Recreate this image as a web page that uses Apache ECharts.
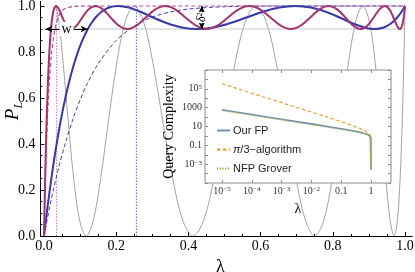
<!DOCTYPE html>
<html><head><meta charset="utf-8">
<script src="https://cdn.jsdelivr.net/npm/echarts@6/dist/echarts.min.js"></script>
<style>html,body{margin:0;padding:0;background:#fff}#c{width:415px;height:272px}</style>
</head><body><div id="c"></div>
<script>
// ---------- main plot data (λ, P_L) ----------
const grayLambda = [0, 0.00085, 0.00338, 0.0076, 0.01348, 0.021, 0.03015, 0.04089, 0.05319, 0.06699, 0.08225, 0.09894, 0.11698, 0.13632, 0.15688, 0.17861, 0.20142, 0.22525, 0.25, 0.2756, 0.30196, 0.32899, 0.3566, 0.3847, 0.41318, 0.44196, 0.47093, 0.5, 0.52907, 0.55804, 0.58682, 0.6153, 0.6434, 0.67101, 0.69804, 0.7244, 0.75, 0.77475, 0.79858, 0.82139, 0.84312, 0.86368, 0.88302, 0.90106, 0.91775, 0.93301, 0.94681, 0.95911, 0.96985, 0.979, 0.98652, 0.9924, 0.99662, 0.99915, 1];
const grayP = [0, 0.067, 0.25, 0.5, 0.75, 0.933, 1, 0.933, 0.75, 0.5, 0.25, 0.067,
               0, 0.067, 0.25, 0.5, 0.75, 0.933, 1, 0.933, 0.75, 0.5, 0.25, 0.067,
               0, 0.067, 0.25, 0.5, 0.75, 0.933, 1, 0.933, 0.75, 0.5, 0.25, 0.067,
               0, 0.067, 0.25, 0.5, 0.75, 0.933, 1, 0.933, 0.75, 0.5, 0.25, 0.067,
               0, 0.067, 0.25, 0.5, 0.75, 0.933, 1];

const blueLambda = [0, 0.01, 0.02, 0.03, 0.04, 0.05, 0.06, 0.07, 0.08, 0.09, 0.1, 0.11, 0.12144, 0.12385, 0.13105, 0.14294, 0.15942, 0.1803, 0.20534, 0.23428, 0.26678, 0.30252, 0.34108, 0.38205, 0.42498, 0.46938, 0.51481, 0.56072, 0.60663, 0.65206, 0.69647, 0.73939, 0.78036, 0.81892, 0.85466, 0.88717, 0.9161, 0.94115, 0.96202, 0.9785, 0.9904, 0.99759, 1];
const blueP = [0, 0.1292, 0.2465, 0.3521, 0.4468, 0.5314, 0.6066, 0.673, 0.7313, 0.7822, 0.8262, 0.8639, 0.9, 0.9067, 0.925, 0.95, 0.975, 0.9933, 1, 0.9933, 0.975, 0.95, 0.925, 0.9067, 0.9, 0.9067, 0.925, 0.95, 0.975, 0.9933, 1, 0.9933, 0.975, 0.95, 0.925, 0.9067, 0.9, 0.9067, 0.925, 0.95, 0.975, 0.9933, 1];

const purpleLambda = [0, 0.002, 0.005, 0.008, 0.011, 0.014, 0.017, 0.019314, 0.020208, 0.02289, 0.027346, 0.033562, 0.041517, 0.051179, 0.062511, 0.075481, 0.090029, 0.106113, 0.123669, 0.142631, 0.162933, 0.1845, 0.207231, 0.23111, 0.256016, 0.281784, 0.308364, 0.335647, 0.363523, 0.391906, 0.421276, 0.450553, 0.480061, 0.509657, 0.539253, 0.568761, 0.598038, 0.627408, 0.655791, 0.683667, 0.71095, 0.73753, 0.763298, 0.788204, 0.812083, 0.834814, 0.856382, 0.876684, 0.895645, 0.913201, 0.929286, 0.943834, 0.956804, 0.968136, 0.977797, 0.985752, 0.991968, 0.996424, 0.999106, 1];
const purpleP = [0, 0.166, 0.375, 0.5426, 0.6747, 0.7771, 0.8546,
                 0.9, 0.9146, 0.95, 0.9854, 1, 0.9854, 0.95, 0.9146,
                 0.9, 0.9146, 0.95, 0.9854, 1, 0.9854, 0.95, 0.9146,
                 0.9, 0.9146, 0.95, 0.9854, 1, 0.9854, 0.95, 0.9146,
                 0.9, 0.9146, 0.95, 0.9854, 1, 0.9854, 0.95, 0.9146,
                 0.9, 0.9146, 0.95, 0.9854, 1, 0.9854, 0.95, 0.9146,
                 0.9, 0.9146, 0.95, 0.9854, 1, 0.9854, 0.95, 0.9146,
                 0.9, 0.9146, 0.95, 0.9854, 1];

const blueDashLambda = [0, 0.02, 0.04, 0.06, 0.08, 0.1, 0.12, 0.15, 0.2, 0.25, 0.3, 0.35, 0.4, 0.5, 0.6, 0.8, 1];
const blueDashP = [0, 0.158, 0.293, 0.409, 0.508, 0.592, 0.663, 0.749, 0.85, 0.913, 0.952, 0.974, 0.987, 0.997, 0.9996, 1, 1];

const purpleDashLambda = [0, 0.002, 0.005, 0.01, 0.015, 0.02, 0.03, 0.04, 0.05, 0.06, 0.08, 0.1, 0.2, 1];
const purpleDashP = [0, 0.139, 0.313, 0.529, 0.678, 0.78, 0.898, 0.953, 0.979, 0.99, 0.998, 0.9996, 1, 1];

const levelLambda = [0, 1];
const levelP = [0.9, 0.9];
const wPurpleDash = 0.035;
const wBlueDash = 0.256;
const wBlue = 0.121;
const deltaMarkLambda = 0.437;

const mainTicks = [0, 0.2, 0.4, 0.6, 0.8, 1.0];
const mainMinor = [0.05, 0.1, 0.15, 0.25, 0.3, 0.35, 0.45, 0.5, 0.55, 0.65, 0.7, 0.75, 0.85, 0.9, 0.95];

// ---------- inset data (λ, query complexity) ----------
const insetLambda = [1e-5, 1e-4, 1e-3, 1e-2, 0.05, 0.1, 0.2, 0.3, 0.5, 0.7, 0.9, 0.99, 0.9999, 1];
const ourFP     = [600, 190, 60.1, 18.9, 8.35, 5.8, 3.95, 3.09, 2.16, 1.57, 1.05, 0.635, 0.359, 0.00026];
const piThird   = [345000, 34500, 3448, 343, 67.3, 32.7, 15.5, 9.67, 4.98, 2.87, 1.5, 0.749, 0.375, 0.00026];
const nfpGrover = [497, 157, 49.7, 15.7, 6.97, 4.88, 3.39, 2.71, 2.0, 1.585, 1.258, 1.068, 1.006, 0.00026];

const insetXTicks  = [1e-5, 1e-4, 1e-3, 1e-2, 0.1, 1];
const insetXLabels = ['10{s|−5}', '10{s|−4}', '10{s|−3}', '10{s|−2}', '0.1', '1'];
const insetYTicks  = [1e-3, 0.1, 10, 1000, 1e5];
const insetYLabels = ['10{s|−3}', '0.1', '10', '1000', '10{s|5}'];
const insetYMinor  = [1e-5, 1e-4, 1e-2, 1, 100, 1e4, 1e6, 1e7];

function zip(xs, ys) { return xs.map((x, i) => [x, ys[i]]); }
function pick(ticks, labels) {
  return v => { for (let i = 0; i < ticks.length; i++) { if (Math.abs(v - ticks[i]) <= ticks[i] * 1e-6) return labels[i]; } return ''; };
}

const SERIF = 'Liberation Serif';
const supRich = { s: { fontSize: 7, fontFamily: SERIF, color: '#333', verticalAlign: 'top', lineHeight: 10 } };

const chart = echarts.init(document.getElementById('c'), null, { renderer: 'canvas' });
const option = {
  animation: false,
  backgroundColor: '#fff',
  graphic: [
    { type: 'text', x: 13, y: 111, rotation: Math.PI / 2, z: 10, silent: true,
      style: { text: '{i|P}{s|L}', align: 'center', verticalAlign: 'middle',
        rich: { i: { fontFamily: SERIF, fontStyle: 'italic', fontSize: 19, fill: '#000', lineHeight: 24 },
                s: { fontFamily: SERIF, fontStyle: 'italic', fontSize: 12, fill: '#000', lineHeight: 14, verticalAlign: 'bottom' } } } }
  ],
  grid: [
    { left: 40.4, top: 1.4, width: 371.8, height: 234.6, show: false, containLabel: false, outerBoundsMode: 'none' },
    { left: 205, top: 70, width: 186, height: 113, show: true, backgroundColor: '#fff', borderColor: '#8c8c8c', borderWidth: 1, z: 5, containLabel: false, outerBoundsMode: 'none' }
  ],
  legend: {
    show: true, orient: 'vertical', left: 216, top: 125, padding: 0, itemGap: 8, itemWidth: 13, itemHeight: 10,
    selectedMode: false, z: 8,
    itemStyle: { opacity: 0 },
    data: ['Our FP', 'π/3−algorithm', 'NFP Grover'],
    formatter: n => n === 'π/3−algorithm' ? '{it|π}/3−algorithm' : n,
    textStyle: { fontFamily: 'Liberation Sans', fontSize: 11, color: '#222', padding: [0, 0, 0, -2],
      rich: { it: { fontStyle: 'italic', fontFamily: 'Liberation Sans', fontSize: 11, color: '#222' } } }
  },
  xAxis: [
    { gridIndex: 0, type: 'value', min: -0.01, max: 1.02, position: 'bottom',
      axisLine: { show: true, onZero: false, lineStyle: { color: '#000', width: 1 } },
      axisTick: { show: true, inside: true, length: 4, customValues: mainTicks, lineStyle: { color: '#000', width: 1 } },
      axisLabel: { show: true, customValues: mainTicks, formatter: v => v.toFixed(1), margin: 3, fontFamily: SERIF, fontSize: 14, color: '#000' },
      splitLine: { show: false },
      name: 'λ', nameLocation: 'middle', nameGap: 17,
      nameTextStyle: { fontFamily: SERIF, fontSize: 18, color: '#000', padding: [0, 12, 0, 0] } },
    { gridIndex: 0, type: 'value', min: -0.01, max: 1.02, position: 'bottom',
      axisLine: { show: false, onZero: false },
      axisTick: { show: true, inside: true, length: 2, customValues: mainMinor, lineStyle: { color: '#000', width: 1 } },
      axisLabel: { show: false }, splitLine: { show: false } },
    { gridIndex: 1, type: 'log', min: 2.7e-6, max: 4.7, position: 'bottom', z: 7,
      axisLine: { show: false, onZero: false },
      axisTick: { show: true, inside: true, length: 3, customValues: insetXTicks, lineStyle: { color: '#8c8c8c' } },
      axisLabel: { show: true, customValues: insetXTicks, formatter: pick(insetXTicks, insetXLabels), margin: 3,
        fontFamily: SERIF, fontSize: 10, color: '#333', rich: supRich },
      splitLine: { show: false }, minorTick: { show: false },
      name: 'λ', nameLocation: 'middle', nameGap: 19,
      nameTextStyle: { fontFamily: SERIF, fontSize: 14, color: '#000' } },
    { gridIndex: 1, type: 'log', min: 2.7e-6, max: 4.7, position: 'top', z: 7,
      axisLine: { show: false, onZero: false },
      axisTick: { show: true, inside: true, length: 3, customValues: insetXTicks, lineStyle: { color: '#8c8c8c' } },
      axisLabel: { show: false }, splitLine: { show: false } }
  ],
  yAxis: [
    { gridIndex: 0, type: 'value', min: 0, max: 1.02, position: 'left',
      axisLine: { show: true, onZero: false, lineStyle: { color: '#000', width: 1 } },
      axisTick: { show: true, inside: true, length: 4, customValues: mainTicks, lineStyle: { color: '#000', width: 1 } },
      axisLabel: { show: true, customValues: mainTicks, formatter: v => v.toFixed(1), margin: 5, fontFamily: SERIF, fontSize: 14, color: '#000' },
      splitLine: { show: false } },
    { gridIndex: 0, type: 'value', min: 0, max: 1.02, position: 'left',
      axisLine: { show: false, onZero: false },
      axisTick: { show: true, inside: true, length: 2, customValues: mainMinor, lineStyle: { color: '#000', width: 1 } },
      axisLabel: { show: false }, splitLine: { show: false } },
    { gridIndex: 1, type: 'log', min: 1e-5, max: 1e7, position: 'left', z: 7,
      axisLine: { show: false, onZero: false },
      axisTick: { show: true, inside: true, length: 3, customValues: insetYMinor.concat(insetYTicks), lineStyle: { color: '#8c8c8c' } },
      axisLabel: { show: true, customValues: insetYTicks, formatter: pick(insetYTicks, insetYLabels), margin: 3,
        fontFamily: SERIF, fontSize: 10, color: '#333', rich: supRich },
      splitLine: { show: false }, minorTick: { show: false },
      name: 'Query Complexity', nameLocation: 'middle', nameGap: 29, nameRotate: 90, nameMoveOverlap: false,
      nameTextStyle: { fontFamily: SERIF, fontSize: 14, color: '#000' } },
    { gridIndex: 1, type: 'log', min: 1e-5, max: 1e7, position: 'right', z: 7,
      axisLine: { show: false, onZero: false },
      axisTick: { show: true, inside: true, length: 3, customValues: insetYMinor.concat(insetYTicks), lineStyle: { color: '#8c8c8c' } },
      axisLabel: { show: false }, splitLine: { show: false } }
  ],
  series: [
    { type: 'line', name: 'NFP L=9', xAxisIndex: 0, yAxisIndex: 0, data: zip(grayLambda, grayP), symbol: 'none', smooth: 0.35, z: 2,
      lineStyle: { color: '#9a9a9a', width: 0.9 } },
    { type: 'line', name: 'level', xAxisIndex: 0, yAxisIndex: 0, data: zip(levelLambda, levelP), symbol: 'none', z: 2,
      lineStyle: { color: '#c8c8c8', width: 1 } },
    { type: 'line', name: 'w13', xAxisIndex: 0, yAxisIndex: 0, data: [[wPurpleDash, 0], [wPurpleDash, 1]], symbol: 'none', z: 2,
      lineStyle: { color: '#d070b4', width: 1, type: [1.5, 1.5] } },
    { type: 'line', name: 'w5', xAxisIndex: 0, yAxisIndex: 0, data: [[wBlueDash, 0], [wBlueDash, 1]], symbol: 'none', z: 2,
      lineStyle: { color: '#6a6ad8', width: 1, type: [1.5, 1.5] } },
    { type: 'line', name: 'blue dashed', xAxisIndex: 0, yAxisIndex: 0, data: zip(blueDashLambda, blueDashP), symbol: 'none', smooth: 0.3, z: 3,
      lineStyle: { color: '#4040b4', width: 1, type: [4, 2.5] } },
    { type: 'line', name: 'purple dashed', xAxisIndex: 0, yAxisIndex: 0, data: zip(purpleDashLambda, purpleDashP), symbol: 'none', smooth: 0.3, z: 3,
      lineStyle: { color: '#bb4c8e', width: 1.2, type: [4, 2.5] } },
    { type: 'line', name: 'L=5', xAxisIndex: 0, yAxisIndex: 0, data: zip(blueLambda, blueP), symbol: 'none', smooth: 0.35, z: 4,
      lineStyle: { color: '#3838a8', width: 2 },
      markLine: { silent: true, symbol: ['arrow', 'arrow'], symbolSize: [5, 7], animation: false,
        lineStyle: { color: '#000', width: 1, type: 'solid' },
        data: [
          [ { coord: [0.004, 0.9], label: { show: true, formatter: 'w', position: 'middle', distance: 0, verticalAlign: 'middle',
                backgroundColor: '#fff', padding: [0, 2], fontFamily: SERIF, fontSize: 14, color: '#000' } },
            { coord: [wBlue, 0.9] } ],
          [ { coord: [deltaMarkLambda, 0.9], label: { show: true, formatter: 'δ²', position: 'middle', distance: 0, verticalAlign: 'middle',
                backgroundColor: 'rgba(255,255,255,0.9)', padding: [0, 1], fontFamily: SERIF, fontStyle: 'italic', fontSize: 12, color: '#000' } },
            { coord: [deltaMarkLambda, 1.0] } ]
        ] } },
    { type: 'line', name: 'L=13', xAxisIndex: 0, yAxisIndex: 0, data: zip(purpleLambda, purpleP), symbol: 'none', smooth: 0.35, z: 4,
      lineStyle: { color: '#a3356f', width: 2 } },
    // inset
    { type: 'line', name: 'Our FP', xAxisIndex: 2, yAxisIndex: 2, data: zip(insetLambda, ourFP), symbol: 'none', z: 6,
      color: '#6f8fc6', itemStyle: { opacity: 0 }, lineStyle: { color: '#6f8fc6', width: 1.6 } },
    { type: 'line', name: 'π/3−algorithm', xAxisIndex: 2, yAxisIndex: 2, data: zip(insetLambda, piThird), symbol: 'none', z: 6,
      color: '#E19C24', itemStyle: { opacity: 0 }, lineStyle: { color: '#E19C24', width: 1.1, type: [3.5, 2.5] } },
    { type: 'line', name: 'NFP Grover', xAxisIndex: 2, yAxisIndex: 2, data: zip(insetLambda, nfpGrover), symbol: 'none', z: 6,
      color: '#8FB032', itemStyle: { opacity: 0 }, lineStyle: { color: '#8FB032', width: 1.3, type: [1.2, 1.5] } }
  ]
};
chart.setOption(option);
</script>
</body></html>
